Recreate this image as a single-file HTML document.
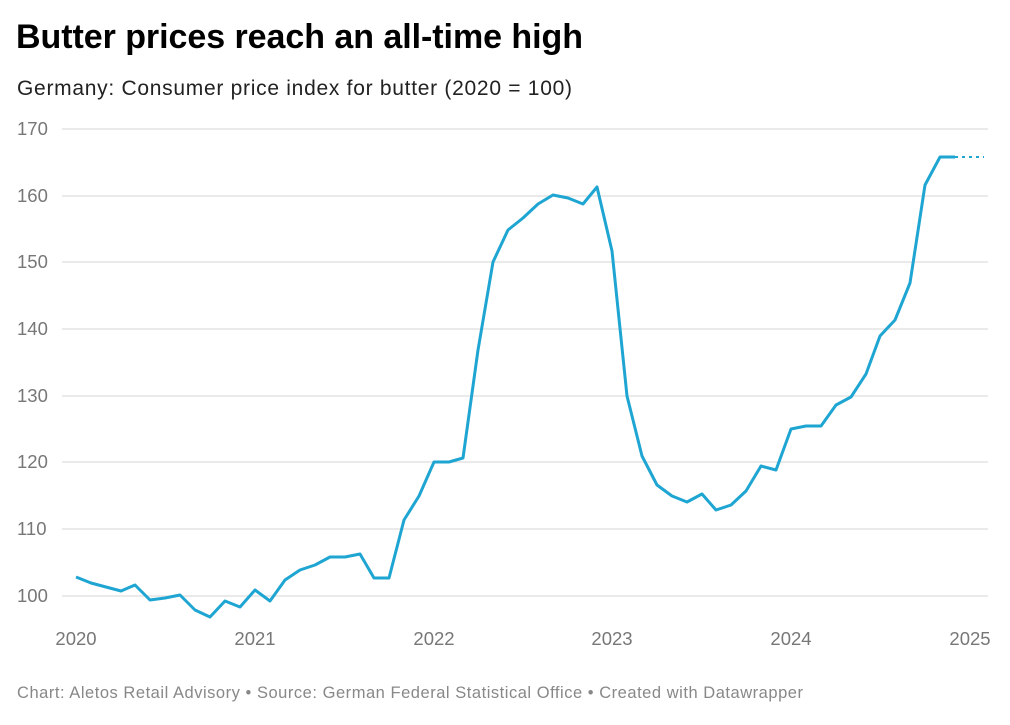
<!DOCTYPE html>
<html><head><meta charset="utf-8"><style>
body{margin:0;width:1010px;height:720px;background:#fff;font-family:"Liberation Sans",sans-serif;overflow:hidden}
</style></head><body>
<svg width="1010" height="720" xmlns="http://www.w3.org/2000/svg" font-family="Liberation Sans, sans-serif">
<text x="16" y="48" font-size="34" font-weight="bold" fill="#000" textLength="567">Butter prices reach an all-time high</text>
<text x="17" y="95" font-size="21" fill="#222" textLength="555">Germany: Consumer price index for butter (2020 = 100)</text>
<g stroke="#e3e3e3" stroke-width="1.5">
<line x1="62" x2="988" y1="129" y2="129"/><line x1="62" x2="988" y1="196" y2="196"/>
<line x1="62" x2="988" y1="262" y2="262"/><line x1="62" x2="988" y1="329" y2="329"/>
<line x1="62" x2="988" y1="396" y2="396"/><line x1="62" x2="988" y1="462" y2="462"/>
<line x1="62" x2="988" y1="529" y2="529"/><line x1="62" x2="988" y1="596" y2="596"/>
</g>
<g font-size="18.5" fill="#777">
<text x="17" y="135">170</text><text x="17" y="202">160</text><text x="17" y="268">150</text>
<text x="17" y="335">140</text><text x="17" y="402">130</text><text x="17" y="468">120</text>
<text x="17" y="535">110</text><text x="17" y="602">100</text>
</g>
<g font-size="18.5" fill="#777" text-anchor="middle">
<text x="76" y="645">2020</text><text x="255" y="645">2021</text><text x="434" y="645">2022</text>
<text x="612" y="645">2023</text><text x="791" y="645">2024</text><text x="970" y="645">2025</text>
</g>
<polyline fill="none" stroke="#1ea5d2" stroke-width="3" stroke-linejoin="round" points="76,577 91,583 106,587 121,591 135,585 150,600 165,598 180,595 195,610 210,617 225,601 240,607 255,590 270,601 285,580 300,570 315,565 330,557 345,557 360,554 374,578 389,578 404,520 419,496 434,462 449,462 463,458 478,350 493,262 508,230 523,218 538,204 553,195 568,198 583,204 597,187 612,251 627,396 642,456 657,485 672,496 687,502 702,494 716,510 731,505 746,491 761,466 776,470 791,429 806,426 821,426 836,405 851,397 866,374 880,336 895,320 910,283 925,185 940,157 955,157"/>
<line x1="955" y1="157" x2="984" y2="157" stroke="#1ea5d2" stroke-width="2" stroke-dasharray="3,4"/>
<text x="17" y="698" font-size="16.5" fill="#888" textLength="786">Chart: Aletos Retail Advisory • Source: German Federal Statistical Office • Created with Datawrapper</text>
</svg>
</body></html>
